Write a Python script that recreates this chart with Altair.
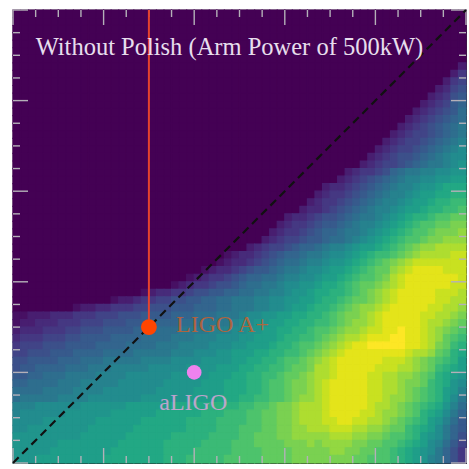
import altair as alt
import pandas as pd

# Heat-map levels, one string per row (top row first), one letter per cell.
# 'a' is the lowest level, 'z' the highest.
LEVELS = "abcdefghijklmnopqrstuvwxyz"
EMPTY = "aaaaaaaaaa aaaaaaaaaa aaaaaaaaaa aaaaaaaaaa aaaaaaaaaa aaaaaaaaaa"
HEAT_ROWS = [
    EMPTY, EMPTY, EMPTY, EMPTY, EMPTY, EMPTY, EMPTY,
    "aaaaaaaaaa aaaaaaaaaa aaaaaaaaaa aaaaaaaaaa aaaaaaaaaa aaaaaaaaac",
    "aaaaaaaaaa aaaaaaaaaa aaaaaaaaaa aaaaaaaaaa aaaaaaaaaa aaaaaaaace",
    "aaaaaaaaaa aaaaaaaaaa aaaaaaaaaa aaaaaaaaaa aaaaaaaaaa aaaaaaacef",
    "aaaaaaaaaa aaaaaaaaaa aaaaaaaaaa aaaaaaaaaa aaaaaaaaaa aaaaaacdfg",
    "aaaaaaaaaa aaaaaaaaaa aaaaaaaaaa aaaaaaaaaa aaaaaaaaaa aaaaacdegh",
    "aaaaaaaaaa aaaaaaaaaa aaaaaaaaaa aaaaaaaaaa aaaaaaaaaa aaaacdefhi",
    "aaaaaaaaaa aaaaaaaaaa aaaaaaaaaa aaaaaaaaaa aaaaaaaaaa aaacdefghj",
    "aaaaaaaaaa aaaaaaaaaa aaaaaaaaaa aaaaaaaaaa aaaaaaaaaa aacdefghij",
    "aaaaaaaaaa aaaaaaaaaa aaaaaaaaaa aaaaaaaaaa aaaaaaaaaa acdefghijk",
    "aaaaaaaaaa aaaaaaaaaa aaaaaaaaaa aaaaaaaaaa aaaaaaaaaa cdeffghijk",
    "aaaaaaaaaa aaaaaaaaaa aaaaaaaaaa aaaaaaaaaa aaaaaaaaac deffghijkl",
    "aaaaaaaaaa aaaaaaaaaa aaaaaaaaaa aaaaaaaaaa aaaaaaaacd effghijklm",
    "aaaaaaaaaa aaaaaaaaaa aaaaaaaaaa aaaaaaaaaa aaaaaaacde fgghijklmm",
    "aaaaaaaaaa aaaaaaaaaa aaaaaaaaaa aaaaaaaaaa aaaaaacdef fghijkklmn",
    "aaaaaaaaaa aaaaaaaaaa aaaaaaaaaa aaaaaaaaaa aaaacdeefg ijkkllmmnn",
    "aaaaaaaaaa aaaaaaaaaa aaaaaaaaaa aaaaaaaaaa aaacdefghi jkllmmnnoo",
    "aaaaaaaaaa aaaaaaaaaa aaaaaaaaaa aaaaaaaaaa acddefghij kllmnnoppp",
    "aaaaaaaaaa aaaaaaaaaa aaaaaaaaaa aaaaaaaaaa cdeefghijk llmnooppqq",
    "aaaaaaaaaa aaaaaaaaaa aaaaaaaaaa aaaaaaaaac deefghijkl lmnoopqqrr",
    "aaaaaaaaaa aaaaaaaaaa aaaaaaaaaa aaaaaaaacd defghijkll mnoopqqrrs",
    "aaaaaaaaaa aaaaaaaaaa aaaaaaaaaa aaaaaacdde fgghijkklm nopqqrsstt",
    "aaaaaaaaaa aaaaaaaaaa aaaaaaaaaa aaaaacdeef ghhijkllmn opqrssttuu",
    "aaaaaaaaaa aaaaaaaaaa aaaaaaaaaa aaaacdeefg hiijkklmno pqrsstuuuv",
    "aaaaaaaaaa aaaaaaaaaa aaaaaaaaaa aaacdeffgh hijjklmnop qrsstuuvvv",
    "aaaaaaaaaa aaaaaaaaaa aaaaaaaaaa acdeffghii jkllmnoopq rstuvvwwww",
    "aaaaaaaaaa aaaaaaaaaa aaaaaaaabc ddefghiijk klmmnopqrr stuvwwwwxx",
    "aaaaaaaaaa aaaaaaaaaa aaaaaaabcd defghijjkl lmnnopqrst uvwxxxxxxx",
    "aaaaaaaaaa aaaaaaaaaa aaaaabcdde fghhijkklm mnoopqrstt vwxyyyyxxx",
    "aaaaaaaaaa aaaaaaaaaa aaabcdeefg hiijjkllmm noopqrsstu wxyyyyyyyx",
    "aaaaaaaaaa aaaaaaaaaa abcdeefggh ijjkklmmnn oppqrsttuv wxyyyyyyxx",
    "aaaaaaaaaa aaaaaaabcd deefgghhii jjkkllmnno ppqqrstuvw xyyyyyxxxw",
    "aaaaaaaaaa aaabccdeef fgghhiijjk kkllmmnnoo pqqrsttuvw xyyyyyxxww",
    "aaaaaaaabc cddeeeffgg ghhhiiijjk kkllmmnoop qqrstuvvwx yyyyyxxwwv",
    "bbcccdddee efffggghhh hiiijjjkkk lmmnnooppq qrstuuvwxy yyyyxxwwvu",
    "bccdddeeef ffggghhhii iijjjkkkkl mmnnooppqq rrstuvvwxy yyyyxwwvut",
    "cdddeeeffg gghhhhiiij jjkkkklllm mnnooppqqr sstuvvwxxy yzyyxwvuts",
    "deeefffggh hhhiiiijjj jkkklllmmm nnooopqqrr stuvwwxyyy zzyyxwvtsr",
    "efffggghhh hiiiijjjjk kkllllmmmn nooopqqrss tuvwxyyzzz zzyyxwutrq",
    "ffggghhhii iijjjjkkkk klllmmmnno ooppqqrrst uvwxyyyyyy yyxwwvtsqp",
    "gghhhhiiij jjkkkkklll lmmmmnnnno oppqqrsstu vwxyyyyyyx xxwvutsrqo",
    "ghhiiiijjj kkklllllmm mmmnnnnooo ppqqrrsttu wwxyyyyyxx xwwvutrqpo",
    "hhiijjjkkk kllllmmmmm mnnnnnooop pqqrrsttuv wwxyyyyxxw wvvutsqpon",
    "iijjjjkkkl llllmmmmmm nnnnnooopp pqqrsstuuv wxyyyyyxxw wvuutrqpnm",
    "jjjjkkkkll llmmmmmmmn nnnnoooopp pqqrsstuuv wxyyyyyxxw wvutsrqonl",
    "jkkkkkllll mmmmmmmnnn nnnooooppp qqrrsstuvv wxyyyyyxxw vvutsrqomk",
    "lllmmmmmmn nnnnnooooo opppppqqqq rrsstuuvww wxyyyyyxww vutsrqpnlj",
    "lmmmmmmnnn nnnoooooop pppppqqqrr rssttuuvww wxyyyyxxwv vutsqpomki",
    "mmmmnnnnnn nooooooppp pppqqqqrrr rssttuuvww wxxyyxxwwv utsrqonljh",
    "mmnnnnnnnn oooooopppp pppqqqqrrr sssttuuvvw wwxxxwwvvu ttrqpomkih",
    "nnnnnnnnno oooooppppp pqqqqqrrrr sstttuuvvv vvwwwvvuut ssrqonmkig",
    "nnnnnnoooo oooopppppp qqqqqrrrrs ssttttuuuv uvvvvuutts srqpomljhf",
    "nnnnnooooo oooppppppp qqqqrrrrrs sssttttuuu uuvvuuttss rqponmkige",
    "nnnooooooo oopppppppp qqqrrrrrss sssttttuuu uuuuuttsss rqponlkige",
]

SPAN = 5.0                      # both axes run from 0 to 5
N = 60                          # cells per side
MAJOR_TICKS = [0, 1, 2, 3, 4, 5]
MINOR_TICKS = [0.25, 0.5, 0.75, 1.25, 1.5, 1.75, 2.25, 2.5, 2.75,
               3.25, 3.5, 3.75, 4.25, 4.5, 4.75]

DIAGONAL_X = [0, 5]
DIAGONAL_Y = [0, 5]

APLUS_X, APLUS_Y, APLUS_TOP = 1.5, 1.5, 5.0
ALIGO_X, ALIGO_Y = 2.0, 1.0

TITLE = "Without Polish (Arm Power of 500kW)"

W = H = 453

cells = []
for j, row in enumerate(HEAT_ROWS):
    row = row.replace(" ", "")
    assert len(row) == N, (j, len(row))
    for i, ch in enumerate(row):
        cells.append({
            "x0": i * SPAN / N, "x1": (i + 1) * SPAN / N,
            "y0": SPAN - (j + 1) * SPAN / N, "y1": SPAN - j * SPAN / N,
            "v": LEVELS.index(ch),
        })
heat_df = pd.DataFrame(cells)

xs = alt.Scale(domain=[0, SPAN], nice=False, zero=False)
ys = alt.Scale(domain=[0, SPAN], nice=False, zero=False)
cscale = alt.Scale(scheme="viridis", domain=[0, len(LEVELS) - 1])

# cells carry a same-coloured outline so no background shows between them
heat = alt.Chart(heat_df).mark_rect(strokeWidth=1.2).encode(
    x=alt.X("x0:Q", scale=xs, axis=None),
    x2="x1:Q",
    y=alt.Y("y0:Q", scale=ys, axis=None),
    y2="y1:Q",
    color=alt.Color("v:Q", scale=cscale, legend=None),
    stroke=alt.Stroke("v:Q", scale=cscale, legend=None),
)

diag = alt.Chart(pd.DataFrame({"x": DIAGONAL_X, "y": DIAGONAL_Y})).mark_line(
    color="#111111", strokeWidth=2.2, strokeDash=[8, 5]
).encode(x=alt.X("x:Q", scale=xs), y=alt.Y("y:Q", scale=ys))

aplus_line = alt.Chart(pd.DataFrame({"x": [APLUS_X], "y": [APLUS_Y], "y2": [APLUS_TOP]})).mark_rule(
    color="#e5432e", strokeWidth=2
).encode(x=alt.X("x:Q", scale=xs), y=alt.Y("y:Q", scale=ys), y2="y2:Q")

aplus_pt = alt.Chart(pd.DataFrame({"x": [APLUS_X], "y": [APLUS_Y]})).mark_circle(
    size=250, color="#ff4500", opacity=1
).encode(x=alt.X("x:Q", scale=xs), y=alt.Y("y:Q", scale=ys))

aligo_pt = alt.Chart(pd.DataFrame({"x": [ALIGO_X], "y": [ALIGO_Y]})).mark_circle(
    size=215, color="#ee82ee", opacity=1
).encode(x=alt.X("x:Q", scale=xs), y=alt.Y("y:Q", scale=ys))

labels = pd.DataFrame({
    "x": [1.80, 1.99, 0.25],
    "y": [1.45, 0.585, 4.50],
    "text": ["LIGO A+", "aLIGO", TITLE],
    "kind": ["aplus", "aligo", "title"],
})

def label_layer(kind, color, align, opacity, size):
    return alt.Chart(labels[labels["kind"] == kind]).mark_text(
        font="Liberation Serif", fontSize=size, align=align, baseline="alphabetic",
        color=color, opacity=opacity,
    ).encode(x=alt.X("x:Q", scale=xs), y=alt.Y("y:Q", scale=ys), text="text:N")

aplus_txt = label_layer("aplus", "#d0602c", "left", 0.8, 24)
aligo_txt = label_layer("aligo", "#e2a6de", "center", 0.8, 24)
title_txt = label_layer("title", "#f6f0fb", "left", 0.92, 24.5)

TICK_COLOR = "#b4b0b8"

def tick_layers(values, length):
    df = pd.DataFrame({"t": values})
    base = alt.Chart(df).mark_rule(color=TICK_COLOR, strokeWidth=1.4)
    return [
        base.encode(x=alt.X("t:Q", scale=xs), y=alt.value(H), y2=alt.value(H - length)),
        base.encode(x=alt.X("t:Q", scale=xs), y=alt.value(0), y2=alt.value(length)),
        base.encode(y=alt.Y("t:Q", scale=ys), x=alt.value(0), x2=alt.value(length)),
        base.encode(y=alt.Y("t:Q", scale=ys), x=alt.value(W), x2=alt.value(W - length)),
    ]

ticks = tick_layers(MAJOR_TICKS, 15) + tick_layers(MINOR_TICKS, 7)

chart = alt.layer(
    heat, *ticks, diag, aplus_line, aplus_pt, aligo_pt, aplus_txt, aligo_txt, title_txt
).properties(
    width=W, height=H,
    autosize="none",
    padding={"left": 13, "top": 10, "right": 3, "bottom": 6},
    background="white",
).configure_view(stroke="#222222", strokeWidth=1.2, fill="#440154")

chart.save("out.html", embed_options={"renderer": "svg", "actions": False})
